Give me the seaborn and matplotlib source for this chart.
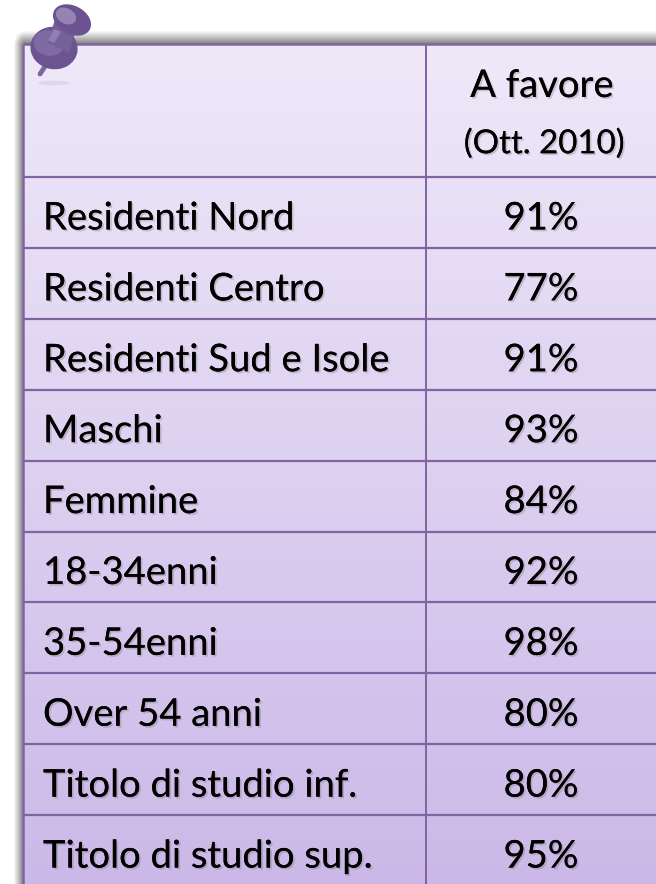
import numpy as np
import pandas as pd
import seaborn as sns
import matplotlib
matplotlib.use("Agg")
import matplotlib.pyplot as plt
import matplotlib.patheffects as pe
from matplotlib.colors import ListedColormap, LinearSegmentedColormap
from matplotlib.patches import Ellipse, Polygon

categories = ["Residenti Nord", "Residenti Centro", "Residenti Sud e Isole", "Maschi",
              "Femmine", "18-34enni", "35-54enni", "Over 54 anni",
              "Titolo di studio inf.", "Titolo di studio sup."]
values = [91, 77, 91, 93, 84, 92, 98, 80, 80, 95]
header_main = "A favore"
header_sub = "(Ott. 2010)"

W, H = 656, 884
LEFT, TOP, COL, HEAD, RIGHT, BOT = 23, 44, 426, 177, 656, 886
LINE = "#8064A2"
FS = 27.5
TEXT_DROP = 6

sns.set_theme(style="white")
plt.rcParams["font.family"] = ["Lato", "DejaVu Sans"]
fig = plt.figure(figsize=(W / 100, H / 100), dpi=100, facecolor="white")

# page layer in pixel coordinates: shadow, gradient, rules, pin
bg = fig.add_axes([0, 0, 1, 1])
bg.set_xlim(0, W)
bg.set_ylim(H, 0)
bg.axis("off")

yy, xx = np.mgrid[0:H, 0:W]
dx = np.clip(LEFT + 1 - xx, 0, None) / 11.0
dy = np.clip(TOP + 1 - yy, 0, None) / 15.0
dist = np.hypot(dx, dy)
shadow = np.clip(1 - dist, 0, 1) ** 1.1
rgba = np.zeros((H, W, 4))
rgba[..., :3] = 0.40
rgba[..., 3] = shadow * 0.95
bg.imshow(rgba, extent=(0, W, H, 0), aspect="auto", zorder=1, interpolation="bilinear")

grad = np.linspace(0, 1, 256).reshape(-1, 1)
fill = LinearSegmentedColormap.from_list("fill", ["#EFE9F9", "#CBB8E8"])
bg.imshow(grad, cmap=fill, extent=(LEFT, RIGHT, BOT, TOP), aspect="auto", zorder=2)
bg.set_xlim(0, W)
bg.set_ylim(H, 0)

row_h = (BOT - HEAD) / len(categories)
for i in range(len(categories)):
    bg.plot([LEFT, RIGHT], [HEAD + i * row_h] * 2, color=LINE, lw=1.6, zorder=3, solid_capstyle="butt")
bg.plot([LEFT, RIGHT], [TOP, TOP], color=LINE, lw=1.8, zorder=3, solid_capstyle="butt")
bg.plot([LEFT, LEFT], [TOP, BOT], color=LINE, lw=1.8, zorder=3, solid_capstyle="butt")
bg.plot([COL, COL], [TOP, BOT], color=LINE, lw=1.4, zorder=3, solid_capstyle="butt")

# push-pin
bg.add_patch(Ellipse((54, 83), 30, 3, color="#DCD3EC", alpha=0.7, zorder=4))
bg.plot([46, 40], [65, 74], color="#7C66A0", lw=3.5, solid_capstyle="round", zorder=4)
bg.add_patch(Ellipse((54, 48), 46, 41, angle=10, color="#6B5490", zorder=5))
bg.add_patch(Ellipse((49, 43), 30, 24, angle=10, color="#7F6AA3", zorder=5))
bg.add_patch(Polygon([[55, 22], [74, 34], [69, 52], [48, 42]], color="#75609A", zorder=6))
bg.add_patch(Polygon([[54, 30], [60, 32], [54, 42], [49, 40]], color="#927EB3", zorder=6))
bg.add_patch(Ellipse((72, 20), 39, 27, angle=28, color="#6A5390", zorder=7))
bg.add_patch(Ellipse((66, 16), 20, 14, angle=28, color="#9583B5", zorder=7))

# data layer: value column drawn as a seaborn heatmap with transparent cells
shadow_fx = [pe.withSimplePatchShadow(offset=(1.3, -1.3), shadow_rgbFace="#666666", alpha=0.28), pe.Normal()]
ax = fig.add_axes([COL / W, 1 - (BOT + TEXT_DROP) / H, (RIGHT - COL) / W, (BOT - HEAD) / H])
ax.patch.set_alpha(0)
df = pd.DataFrame({"A favore": values}, index=categories)
labels = np.array([[f"{v}%"] for v in values])
sns.heatmap(df, ax=ax, cmap=ListedColormap([(0, 0, 0, 0)]), cbar=False, annot=labels, fmt="",
            xticklabels=False, yticklabels=True,
            annot_kws={"fontsize": FS, "color": "black", "path_effects": shadow_fx})
ax.set_ylabel("")
ax.tick_params(axis="y", length=0, pad=(COL - 43) * 0.72, labelsize=FS, labelcolor="black", rotation=0)
for t in ax.get_yticklabels():
    t.set_ha("left")
    t.set_va("center")
    t.set_path_effects(shadow_fx)

bg.text((COL + RIGHT) / 2 + 1, 86, header_main, ha="center", va="center", fontsize=FS, color="black",
        path_effects=shadow_fx, zorder=8)
bg.text((COL + RIGHT) / 2 + 3, 144, header_sub, ha="center", va="center", fontsize=23.8, color="black",
        path_effects=shadow_fx, zorder=8)

fig.savefig("out.png", dpi=100)
